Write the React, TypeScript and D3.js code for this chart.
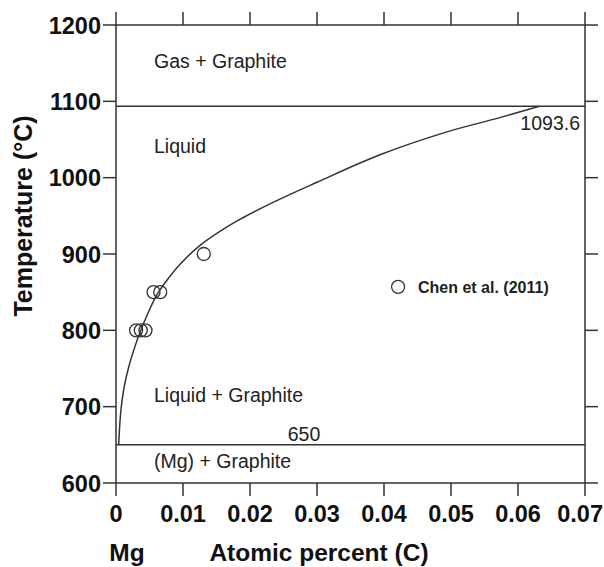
import React from "react";
import * as d3 from "d3";

const xTicks = [0, 0.01, 0.02, 0.03, 0.04, 0.05, 0.06, 0.07];
const xTickLabels = ["0", "0.01", "0.02", "0.03", "0.04", "0.05", "0.06", "0.07"];
const yTicks = [600, 700, 800, 900, 1000, 1100, 1200];

// liquidus curve (at.% C, °C)
const liquidusX = [0.0004, 0.0007, 0.0012, 0.0019, 0.0028, 0.0037, 0.0049, 0.0062, 0.0078, 0.0095, 0.0125, 0.018, 0.024, 0.030, 0.0394, 0.0494, 0.057, 0.0632];
const liquidusT = [650, 692, 725, 752, 778, 800, 825, 848, 868, 886, 911, 943, 970, 994, 1030, 1060, 1078, 1093.6];

// Chen et al. (2011) points
const chenX = [0.003, 0.0037, 0.0044, 0.0056, 0.0066, 0.0131];
const chenT = [800, 800, 800, 850, 850, 900];

const eutecticT = 650;
const peritecticT = 1093.6;

const W = 604, H = 567;
const m = { left: 116, right: 585, top: 25, bottom: 483 };

export default function App() {
  const x = d3.scaleLinear().domain([0, 0.07]).range([m.left, m.right]);
  const y = d3.scaleLinear().domain([600, 1200]).range([m.bottom, m.top]);
  const line = d3
    .line<number>()
    .x((_, i) => x(liquidusX[i]))
    .y((_, i) => y(liquidusT[i]))
    .curve(d3.curveCatmullRom.alpha(0.5));
  const col = "#333";
  const tick = 13;
  const last = xTicks.length - 1;
  return (
    <svg width={W} height={H} style={{ position: "absolute", left: 0, top: 0, background: "#fff" }} fontFamily="Arial, Liberation Sans, sans-serif">
      {/* frame */}
      <rect x={m.left} y={m.top} width={m.right - m.left} height={m.bottom - m.top} fill="none" stroke={col} strokeWidth={1.5} />
      {xTicks.map((t) => (
        <g key={"xt" + t}>
          <line x1={x(t)} x2={x(t)} y1={m.bottom} y2={m.bottom + tick} stroke={col} strokeWidth={1.5} />
          <line x1={x(t)} x2={x(t)} y1={m.top} y2={m.top - tick} stroke={col} strokeWidth={1.5} />
        </g>
      ))}
      {yTicks.map((t) => (
        <g key={"yt" + t}>
          <line x1={m.left - tick} x2={m.left} y1={y(t)} y2={y(t)} stroke={col} strokeWidth={1.5} />
          <line x1={m.right} x2={m.right + tick} y1={y(t)} y2={y(t)} stroke={col} strokeWidth={1.5} />
          <text x={m.left - 15} y={y(t) + 8.5} textAnchor="end" fontSize={23.5} fontWeight="bold" fill="#111">{t}</text>
        </g>
      ))}
      {xTicks.map((t, i) => (
        <text
          key={"xl" + t}
          x={i === last ? W - 1 : x(t)}
          y={522}
          textAnchor={i === last ? "end" : "middle"}
          fontSize={23.5}
          fontWeight="bold"
          fill="#111"
        >
          {xTickLabels[i]}
        </text>
      ))}
      {/* invariant lines */}
      <line x1={x(0)} x2={x(0.07)} y1={y(peritecticT)} y2={y(peritecticT)} stroke={col} strokeWidth={1.5} />
      <line x1={x(0)} x2={x(0.07)} y1={y(eutecticT)} y2={y(eutecticT)} stroke={col} strokeWidth={1.5} />
      <path d={line(liquidusT) || ""} fill="none" stroke={col} strokeWidth={1.5} />
      {/* data points */}
      {chenX.map((v, i) => (
        <circle key={"p" + i} cx={x(v)} cy={y(chenT[i])} r={6.5} fill="none" stroke={col} strokeWidth={1.3} />
      ))}
      {/* legend */}
      <circle cx={x(0.0421)} cy={y(857)} r={6.5} fill="none" stroke={col} strokeWidth={1.3} />
      <text x={418} y={y(857) + 6} fontSize={16} fontWeight="bold" fill="#222">Chen et al. (2011)</text>
      {/* region labels */}
      <text x={154} y={68} fontSize={19.5} fill="#222">Gas + Graphite</text>
      <text x={154} y={153} fontSize={19.5} fill="#222">Liquid</text>
      <text x={154} y={402} fontSize={19.5} fill="#222">Liquid + Graphite</text>
      <text x={154} y={468} fontSize={19.5} fill="#222">(Mg) + Graphite</text>
      <text x={304} y={441} textAnchor="middle" fontSize={19.5} fill="#222">650</text>
      <text x={580} y={130} textAnchor="end" fontSize={19.5} fill="#222">1093.6</text>
      {/* axis titles */}
      <text transform={`translate(32,216) rotate(-90)`} textAnchor="middle" fontSize={25} fontWeight="bold" fill="#111">Temperature (°C)</text>
      <text x={127} y={561} textAnchor="middle" fontSize={24.5} fontWeight="bold" fill="#111">Mg</text>
      <text x={319} y={561} textAnchor="middle" fontSize={24.5} fontWeight="bold" fill="#111">Atomic percent (C)</text>
    </svg>
  );
}
